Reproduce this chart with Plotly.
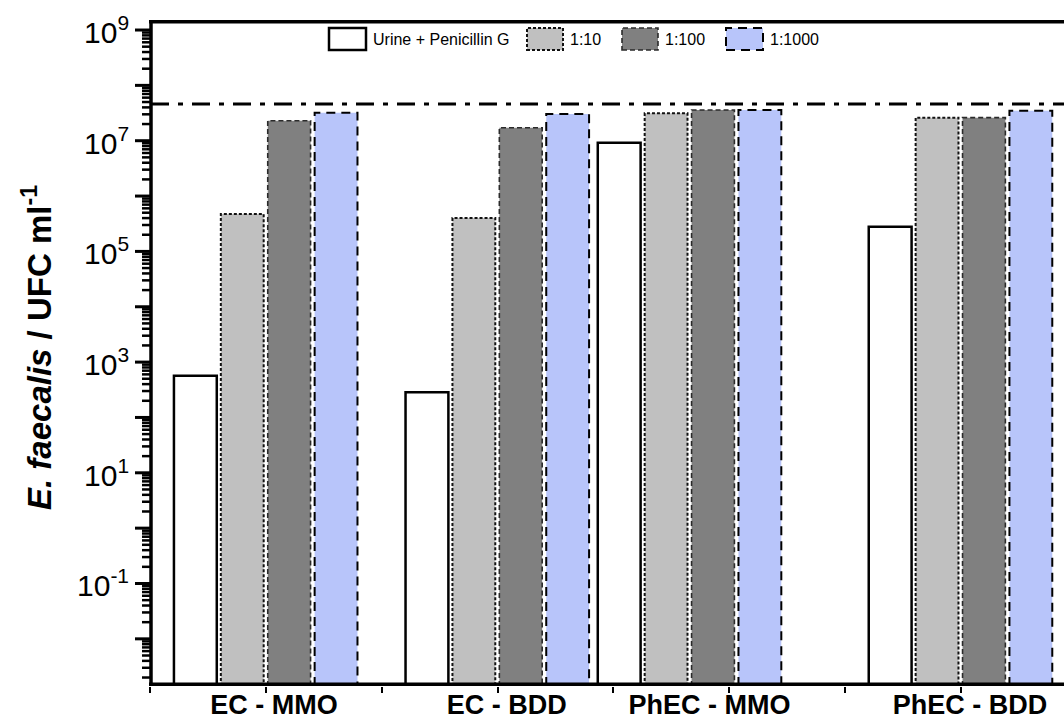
import math
import plotly.graph_objects as go

# ---------------- data ----------------
groups = ["EC - MMO", "EC - BDD", "PhEC - MMO", "PhEC - BDD"]
group_pos = [1.0, 3.0, 4.66, 7.0]          # x position of each group on the numeric axis
label_pos = [1.07, 3.08, 4.83, 7.08]       # x position of category labels
series_names = ["Urine + Penicillin G", "1:10", "1:100", "1:1000"]
urine = [568, 285, 9.2e6, 2.79e5]
dil_10 = [4.74e5, 4.0e5, 3.13e7, 2.61e7]
dil_100 = [2.30e7, 1.72e7, 3.59e7, 2.61e7]
dil_1000 = [3.21e7, 3.03e7, 3.59e7, 3.48e7]
limit_value = 4.6e7
y_label_exps = [-1, 1, 3, 5, 7, 9]
y_major_exps = list(range(-2, 10))

# ---------------- styles / geometry ----------------
FONT = "Arial, Liberation Sans, sans-serif"
fills = ["#FFFFFF", "#C0C0C0", "#808080", "#B8C5FA"]
edge_dash = [None, "3px,2px", "5px,3px", "9px,6px"]
edge_width = [2.5, 2, 1.6, 2]
edge_color = ["#000000", "#111111", "#2a2a2a", "#000000"]
offsets = [-0.795, -0.39, 0.015, 0.42]
bar_w = 0.37

W, H = 1064, 719
PL, PR, PT, PB = 131, 1064, 20, 686      # plot area in pixels
X0_PX, X_UNIT = 150.2, 115.8             # pixel of x=0 and pixels per x unit
x_range = [(PL - X0_PX) / X_UNIT, (PR - X0_PX) / X_UNIT]
y_range = [-2.852, 9.181]
y_bottom = 10 ** y_range[0]
y_top = 10 ** y_range[1]

def xu(pxl):                 # pixel column -> x data unit
    return (pxl - X0_PX) / X_UNIT
def px(x):                   # pixel column -> paper fraction
    return (x - PL) / (PR - PL)
def py(y):                   # pixel row -> paper fraction
    return (PB - y) / (PB - PT)
def ylog_paper(lv):
    return (lv - y_range[0]) / (y_range[1] - y_range[0])

all_series = [urine, dil_10, dil_100, dil_1000]

fig = go.Figure()

for i, vals in enumerate(all_series):
    fig.add_trace(go.Bar(
        x=group_pos, y=vals, width=bar_w, offset=offsets[i],
        marker=dict(color=fills[i],
                    line=dict(color="#000", width=edge_width[i] if edge_dash[i] is None else 0)),
        name=series_names[i], showlegend=False,
    ))

for i, vals in enumerate(all_series):
    if edge_dash[i] is None:
        continue
    for xc, v in zip(group_pos, vals):
        x0 = xc + offsets[i]
        x1 = x0 + bar_w
        fig.add_trace(go.Scatter(
            x=[x0, x0, x1, x1], y=[y_bottom, v, v, y_bottom], mode="lines",
            line=dict(color=edge_color[i], width=edge_width[i], dash=edge_dash[i]),
            showlegend=False, hoverinfo="skip",
        ))

fig.add_trace(go.Scatter(
    x=[xu(151), x_range[1]], y=[limit_value, limit_value], mode="lines",
    line=dict(color="#000", width=3, dash="18px,9px,5px,9px"),
    showlegend=False, hoverinfo="skip",
))

# ---------------- frame and y tick marks drawn inside the plot area ----------------
ax_x = xu(151)
# left axis line
fig.add_trace(go.Scatter(x=[ax_x, ax_x], y=[y_bottom, y_top], mode="lines",
                         line=dict(color="black", width=3.5), showlegend=False, hoverinfo="skip"))
# bottom and top border lines (half of the width is clipped at the plot edge)
fig.add_trace(go.Scatter(x=[xu(149), x_range[1]], y=[y_bottom, y_bottom], mode="lines",
                         line=dict(color="black", width=7), showlegend=False, hoverinfo="skip"))
fig.add_trace(go.Scatter(x=[xu(149), x_range[1]], y=[y_top, y_top], mode="lines",
                         line=dict(color="black", width=7), showlegend=False, hoverinfo="skip"))

maj_x, maj_y = [], []
for e in y_major_exps:
    v = 10.0 ** e
    maj_x += [xu(135), ax_x, None]
    maj_y += [v, v, None]
min_x, min_y = [], []
for e in range(-3, 9):
    for m in range(2, 10):
        v = m * 10.0 ** e
        if y_range[0] <= math.log10(v) <= y_range[1]:
            min_x += [xu(142), ax_x, None]
            min_y += [v, v, None]
fig.add_trace(go.Scatter(x=maj_x, y=maj_y, mode="lines", connectgaps=False,
                         line=dict(color="black", width=3), showlegend=False, hoverinfo="skip"))
fig.add_trace(go.Scatter(x=min_x, y=min_y, mode="lines", connectgaps=False,
                         line=dict(color="black", width=2.5), showlegend=False, hoverinfo="skip"))

# ---------------- axes ----------------
fig.update_yaxes(
    type="log", range=y_range, showticklabels=False, ticks="",
    showline=False, showgrid=False, zeroline=False,
)
fig.update_xaxes(
    range=x_range, tickmode="array", tickvals=label_pos,
    ticktext=[f"<b>{g}</b>" for g in groups], ticks="",
    minor=dict(tickmode="linear", tick0=0, dtick=1, ticks="outside",
               ticklen=6, tickwidth=2, tickcolor="black"),
    showline=False, showgrid=False, zeroline=False,
    tickfont=dict(family=FONT, size=27, color="black"),
)

# ---------------- y labels, title, legend ----------------
shapes = []
annotations = []

for e in y_label_exps:
    annotations.append(dict(
        xref="paper", yref="paper", x=px(131), y=ylog_paper(e), xanchor="right", yanchor="middle",
        text=f"10<sup>{e}</sup>", showarrow=False,
        font=dict(family=FONT, size=30, color="black"),
    ))
annotations.append(dict(
    xref="paper", yref="paper", x=px(37), y=py(348), xanchor="center", yanchor="middle",
    text="<b><i>E. faecalis</i> / UFC ml<sup>-1</sup></b>", textangle=-90, showarrow=False,
    font=dict(family=FONT, size=33, color="black"),
))

leg_boxes = [(329, 366), (527, 563), (622, 658), (726, 763)]
leg_text_x = [371, 568, 663, 768]
for i, (x0, x1) in enumerate(leg_boxes):
    shapes.append(dict(
        type="rect", xref="paper", yref="paper",
        x0=px(x0), x1=px(x1), y0=py(50), y1=py(28),
        fillcolor=fills[i],
        line=dict(color=edge_color[i], width=edge_width[i],
                  dash=edge_dash[i] if edge_dash[i] else "solid"),
    ))
    annotations.append(dict(
        xref="paper", yref="paper", x=px(leg_text_x[i]), y=py(40),
        xanchor="left", yanchor="middle", text=series_names[i], showarrow=False,
        font=dict(family=FONT, size=16, color="black"),
    ))

fig.update_layout(
    width=W, height=H, autosize=False,
    margin=dict(l=PL, r=W - PR, t=PT, b=H - PB, pad=0),
    paper_bgcolor="white", plot_bgcolor="white",
    barmode="overlay", showlegend=False,
    shapes=shapes, annotations=annotations,
)

fig.write_html("out.html")
